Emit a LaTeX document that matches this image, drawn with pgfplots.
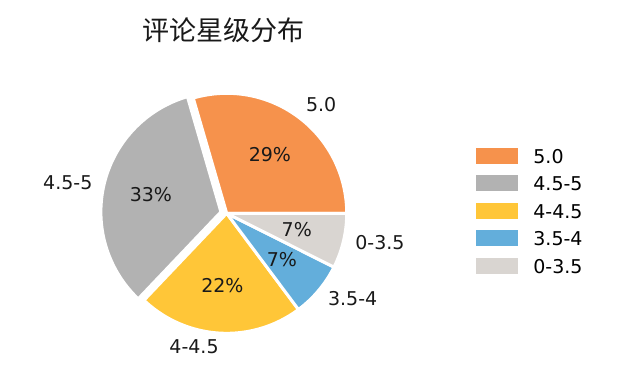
\documentclass[border=0pt]{standalone}
\usepackage{pgfplots}
\pgfplotsset{compat=1.18}
\usepackage{fontspec}
\setmainfont{DejaVu Sans}
\newfontfamily\cjk{Noto Sans CJK SC}
\definecolor{cA}{RGB}{246,146,76}
\definecolor{cB}{RGB}{178,178,178}
\definecolor{cC}{RGB}{255,198,56}
\definecolor{cD}{RGB}{99,174,219}
\definecolor{cE}{RGB}{217,213,209}
\begin{document}
\begin{tikzpicture}
\begin{axis}[
  width=640bp, height=370bp, scale only axis,
  xmin=0, xmax=640, ymin=0, ymax=370,
  hide axis, clip=false,
  legend cell align=left,
  legend image code/.code={\fill[#1,draw=none] (0bp,-7.2bp) rectangle (42bp,8.8bp);},
  legend style={at={(0.74375,0.6147)}, anchor=north west, draw=none, fill=none,
    inner sep=0pt, outer sep=0pt, row sep=0pt,
    font=\fontsize{19bp}{23bp}\selectfont,
    nodes={inner sep=0pt, text height=20.6bp, text depth=6.9bp},
    /tikz/every odd column/.append style={column sep=15.4bp}},
  every axis plot/.append style={draw=white, line width=3bp, line join=round, samples=90},
]
% values (percent): 5.0=29.5, 4.5-5=33.4, 4-4.5=22.3, 3.5-4=7.4, 0-3.5=7.4
\addplot[fill=cA, domain=0:106.2] ({226.7+120*cos(x)},{156.7+120*sin(x)}) -- (axis cs:226.7,156.7) -- cycle;
\addlegendentry{5.0}
\addplot[fill=cB, domain=106.2:226.44] ({220.9+120*cos(x)},{158.1+120*sin(x)}) -- (axis cs:220.9,158.1) -- cycle;
\addlegendentry{4.5-5}
\addplot[fill=cC, domain=226.44:306.72] ({226.7+120*cos(x)},{156.7+120*sin(x)}) -- (axis cs:226.7,156.7) -- cycle;
\addlegendentry{4-4.5}
\addplot[fill=cD, domain=306.72:333.36] ({226.7+120*cos(x)},{156.7+120*sin(x)}) -- (axis cs:226.7,156.7) -- cycle;
\addlegendentry{3.5-4}
\addplot[fill=cE, domain=333.36:360] ({226.7+120*cos(x)},{156.7+120*sin(x)}) -- (axis cs:226.7,156.7) -- cycle;
\addlegendentry{0-3.5}
\begin{scope}[every node/.style={font=\fontsize{19bp}{23bp}\selectfont, text=black!90, inner sep=0pt}]
\node at (axis cs:269.9,215.3) {29\%};
\node at (axis cs:150.9,175.1) {33\%};
\node at (axis cs:222.4,84.8) {22\%};
\node at (axis cs:281.9,110.4) {7\%};
\node at (axis cs:296.8,140.1) {7\%};
\node[anchor=west] at (axis cs:305.9,265.8) {5.0};
\node[anchor=east] at (axis cs:92.6,187.3) {4.5-5};
\node[anchor=east] at (axis cs:218.8,22.9) {4-4.5};
\node[anchor=west] at (axis cs:327.9,71.9) {3.5-4};
\node[anchor=west] at (axis cs:355.2,127.3) {0-3.5};
\node at (axis cs:223.5,340) {\cjk\fontsize{27bp}{32bp}\selectfont 评论星级分布};
\end{scope}
\end{axis}
\pgfresetboundingbox
\path (current axis.south west) rectangle (current axis.north east);
\end{tikzpicture}
\end{document}
